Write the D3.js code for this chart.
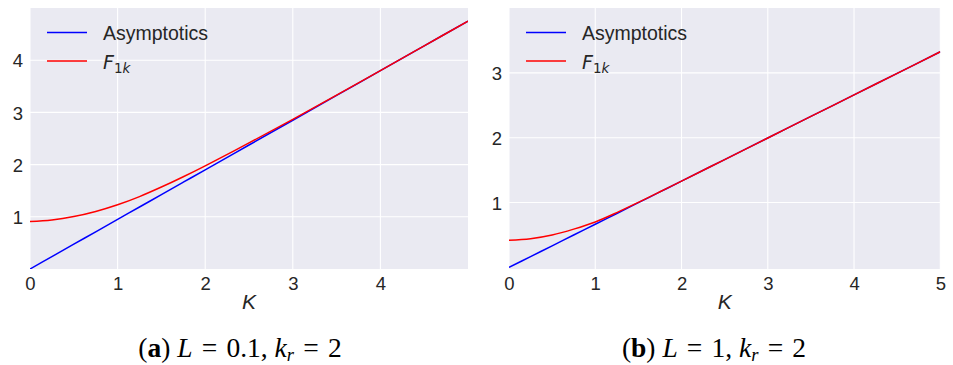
<!DOCTYPE html>
<html><head><meta charset="utf-8">
<script src="https://cdn.jsdelivr.net/npm/d3@7"></script>
<style>body{margin:0;background:#fff}svg{display:block}</style>
</head><body>
<svg id="c" width="953" height="365"></svg>
<script>
// ---- data ----
const kValues = [0, 0.25, 0.5, 0.75, 1.0, 1.25, 1.5, 1.75, 2.0, 2.5, 3.0, 3.5, 4.0, 4.5, 5.0];
const f1kA = [0.91, 0.94, 1.005, 1.1025, 1.23, 1.3875, 1.57, 1.7675, 1.977, 2.415, 2.868, 3.331, 3.801, 4.275, 4.75];
const asymA = [0, 0.2375, 0.475, 0.7125, 0.95, 1.1875, 1.425, 1.6625, 1.90, 2.375, 2.85, 3.325, 3.80, 4.275, 4.75];
const f1kB = [0.42, 0.443, 0.50, 0.59, 0.70, 0.845, 1.003, 1.166, 1.331, 1.6625, 1.995, 2.3275, 2.66, 2.9925, 3.325];
const asymB = [0, 0.16625, 0.3325, 0.49875, 0.665, 0.83125, 0.9975, 1.16375, 1.33, 1.6625, 1.995, 2.3275, 2.66, 2.9925, 3.325];
const xTicksA = [0, 1, 2, 3, 4];
const yTicksA = [1, 2, 3, 4];
const xTicksB = [0, 1, 2, 3, 4, 5];
const yTicksB = [1, 2, 3];
const seriesNames = ["Asymptotics", "F1k"];

const svg = d3.select("#c");
const tickColor = "#262626";
const EQ = "\u2004=\u2004";

function panel(opt) {
  const {x0, x1, y0, y1, xDom, yDom, xTicks, yTicks, f1k, asym, id, caption, cx} = opt;
  const x = d3.scaleLinear().domain(xDom).range([x0, x1]);
  const y = d3.scaleLinear().domain(yDom).range([y1, y0]);
  const g = svg.append("g");
  g.append("rect").attr("x", x0).attr("y", y0).attr("width", x1 - x0).attr("height", y1 - y0).attr("fill", "#EAEAF2");
  g.append("clipPath").attr("id", id).append("rect").attr("x", x0).attr("y", y0).attr("width", x1 - x0).attr("height", y1 - y0);
  // grid
  g.selectAll(".vg").data(xTicks).join("line")
    .attr("x1", d => x(d)).attr("x2", d => x(d)).attr("y1", y0).attr("y2", y1)
    .attr("stroke", "#fff").attr("stroke-width", 1.1);
  g.selectAll(".hg").data(yTicks).join("line")
    .attr("y1", d => y(d)).attr("y2", d => y(d)).attr("x1", x0).attr("x2", x1)
    .attr("stroke", "#fff").attr("stroke-width", 1.1);
  // axes (text only)
  const xa = g.append("g").attr("transform", `translate(0,${y1})`)
    .call(d3.axisBottom(x).tickValues(xTicks).tickFormat(d3.format("d")).tickSize(0).tickPadding(8));
  const ya = g.append("g").attr("transform", `translate(${x0},0)`)
    .call(d3.axisLeft(y).tickValues(yTicks).tickFormat(d3.format("d")).tickSize(0).tickPadding(7));
  [xa, ya].forEach(a => {
    a.select(".domain").remove();
    a.selectAll("text").attr("font-family", "Liberation Sans, Arial, sans-serif")
      .attr("font-size", 18.5).attr("fill", tickColor);
  });
  xa.selectAll("text").attr("dy", "0.71em");
  ya.selectAll("text").attr("dy", "0.36em");
  // lines
  const pts = (arr) => kValues.map((k, i) => [k, arr[i]]);
  const line = d3.line().x(d => x(d[0])).y(d => y(d[1])).curve(d3.curveCatmullRom.alpha(0.5));
  const lg = g.append("g").attr("clip-path", `url(#${id})`);
  lg.append("path").attr("d", line(pts(asym))).attr("fill", "none").attr("stroke", "#0000ff").attr("stroke-width", 1.5);
  lg.append("path").attr("d", line(pts(f1k))).attr("fill", "none").attr("stroke", "#ff0000").attr("stroke-width", 1.5);
  // legend
  const lx = x0 + 17;
  g.append("line").attr("x1", lx).attr("x2", lx + 40).attr("y1", 32.5).attr("y2", 32.5).attr("stroke", "#0000ff").attr("stroke-width", 1.5);
  g.append("line").attr("x1", lx).attr("x2", lx + 40).attr("y1", 61).attr("y2", 61).attr("stroke", "#ff0000").attr("stroke-width", 1.5);
  g.append("text").attr("x", lx + 56).attr("y", 39.5).attr("font-family", "Liberation Sans, Arial, sans-serif")
    .attr("font-size", 19.5).attr("fill", tickColor).text(seriesNames[0]);
  const t2 = g.append("text").attr("x", lx + 56).attr("y", 68.5).attr("font-family", "DejaVu Sans, sans-serif")
    .attr("font-size", 19).attr("fill", tickColor);
  t2.append("tspan").attr("font-style", "italic").text("F");
  t2.append("tspan").attr("font-size", 13.5).attr("dy", 4).text("1");
  t2.append("tspan").attr("font-size", 13.5).attr("font-style", "italic").text("k");
  // x label
  g.append("text").attr("x", (x0 + x1) / 2).attr("y", 309).attr("text-anchor", "middle")
    .attr("font-family", "Liberation Sans, Arial, sans-serif").attr("font-style", "italic")
    .attr("font-size", 21).attr("fill", tickColor).text("K");
  // caption
  const c = g.append("text").attr("x", cx).attr("y", 357).attr("text-anchor", "middle")
    .attr("font-family", "Liberation Serif, serif").attr("font-size", 27.5).attr("fill", "#000");
  c.append("tspan").text("(");
  c.append("tspan").attr("font-weight", "bold").text(caption.letter);
  c.append("tspan").text(") ");
  c.append("tspan").attr("font-style", "italic").text("L");
  c.append("tspan").text(EQ + caption.L + ", ");
  c.append("tspan").attr("font-style", "italic").text("k");
  c.append("tspan").attr("font-style", "italic").attr("font-size", 18.5).attr("dy", 4).text("r");
  c.append("tspan").attr("dy", -4).text(EQ + "2");
}

panel({x0: 30, x1: 468, y0: 8, y1: 269, xDom: [0, 5], yDom: [0, 5], xTicks: xTicksA, yTicks: yTicksA,
  f1k: f1kA, asym: asymA, id: "clipA", caption: {letter: "a", L: "0.1"}, cx: 240});
panel({x0: 509, x1: 940.3, y0: 8, y1: 269, xDom: [0, 5], yDom: [-0.025, 4.0], xTicks: xTicksB, yTicks: yTicksB,
  f1k: f1kB, asym: asymB, id: "clipB", caption: {letter: "b", L: "1"}, cx: 714});
</script>
</body></html>
